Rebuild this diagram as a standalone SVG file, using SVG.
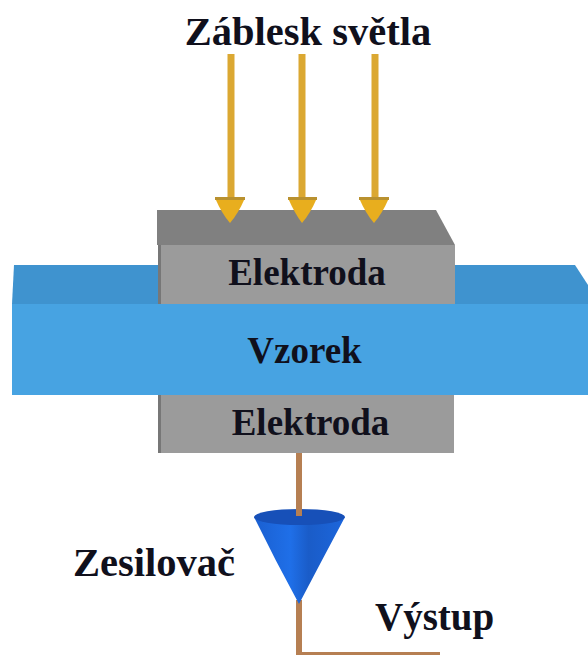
<svg xmlns="http://www.w3.org/2000/svg" width="588" height="655" viewBox="0 0 588 655">
<style>
text{font-family:"Liberation Serif","Times New Roman",serif;font-weight:bold;fill:#10101c}
.ray{stroke:#dba832;stroke-width:7;fill:none}
.head{fill:#e8ae1e}
.headtop{fill:#b9912f}
.wire{stroke:#b67f52;stroke-width:6;fill:none}
.side{fill:#9b9b9b}
.edge{fill:#777}
.lbl{font-size:37px;text-anchor:middle}
.big{font-size:40.5px}
</style>
<defs>
<linearGradient id="cone" x1="0" y1="0" x2="1" y2="0">
<stop offset="0" stop-color="#1a5fd0"/><stop offset="0.4" stop-color="#1f6fe8"/><stop offset="0.6" stop-color="#1a5cc8"/><stop offset="1" stop-color="#1c66dc"/>
</linearGradient>
</defs>
<rect width="588" height="655" fill="#fff"/>
<g id="sample-back"><polygon points="14,265 575,265 588,285 588,304 12,304" fill="#3f93cf"/></g>
<g id="electrode-top">
<polygon points="157,210 436,210 455,245 157,245" fill="#808080"/>
<rect x="158" y="245" width="297" height="59" class="side"/>
<rect x="158" y="245" width="3" height="59" class="edge"/>
<text x="307" y="285" class="lbl">Elektroda</text>
</g>
<g id="electrode-bottom">
<rect x="158" y="394" width="296" height="59" class="side"/>
<rect x="158" y="394" width="3" height="59" class="edge"/>
<text x="310.500" y="435" class="lbl">Elektroda</text>
</g>
<g id="sample">
<rect x="12" y="304" width="576" height="91" fill="#47a3e2"/>
<text x="304.500" y="363" class="lbl">Vzorek</text>
</g>
<g id="connectors">
<path class="ray" d="M231 54V198"/>
<path class="ray" d="M302 54V198"/>
<path class="ray" d="M375 54V198"/>
<path class="wire" d="M299 453V516"/>
<path class="wire" d="M299 600V655H440"/>
</g>
<g id="flash">
<text x="308" y="45" class="big" text-anchor="middle">Záblesk světla</text>
<g id="head1"><path d="M215 198H245Q238 214 230 223Q222 214 215 198Z" class="head"/><rect x="215" y="197" width="30" height="3" class="headtop"/></g>
<g id="head2"><path d="M288 198H317Q310 214 302 223Q295 214 288 198Z" class="head"/><rect x="288" y="197" width="29" height="3" class="headtop"/></g>
<g id="head3"><path d="M359 198H389Q382 214 374 223Q366 214 359 198Z" class="head"/><rect x="359" y="197" width="30" height="3" class="headtop"/></g>
</g>
<g id="amplifier">
<path d="M254 517 Q275 560 299 604 Q322 560 345 517Z" fill="url(#cone)"/>
<ellipse cx="299.500" cy="517" rx="45.500" ry="8" fill="#1750b8"/>
<path class="wire" d="M299 500V516"/>
<text x="73" y="576" class="big">Zesilovač</text>
</g>
<g id="output"><text x="375" y="630" font-size="39">Výstup</text></g>
</svg>
